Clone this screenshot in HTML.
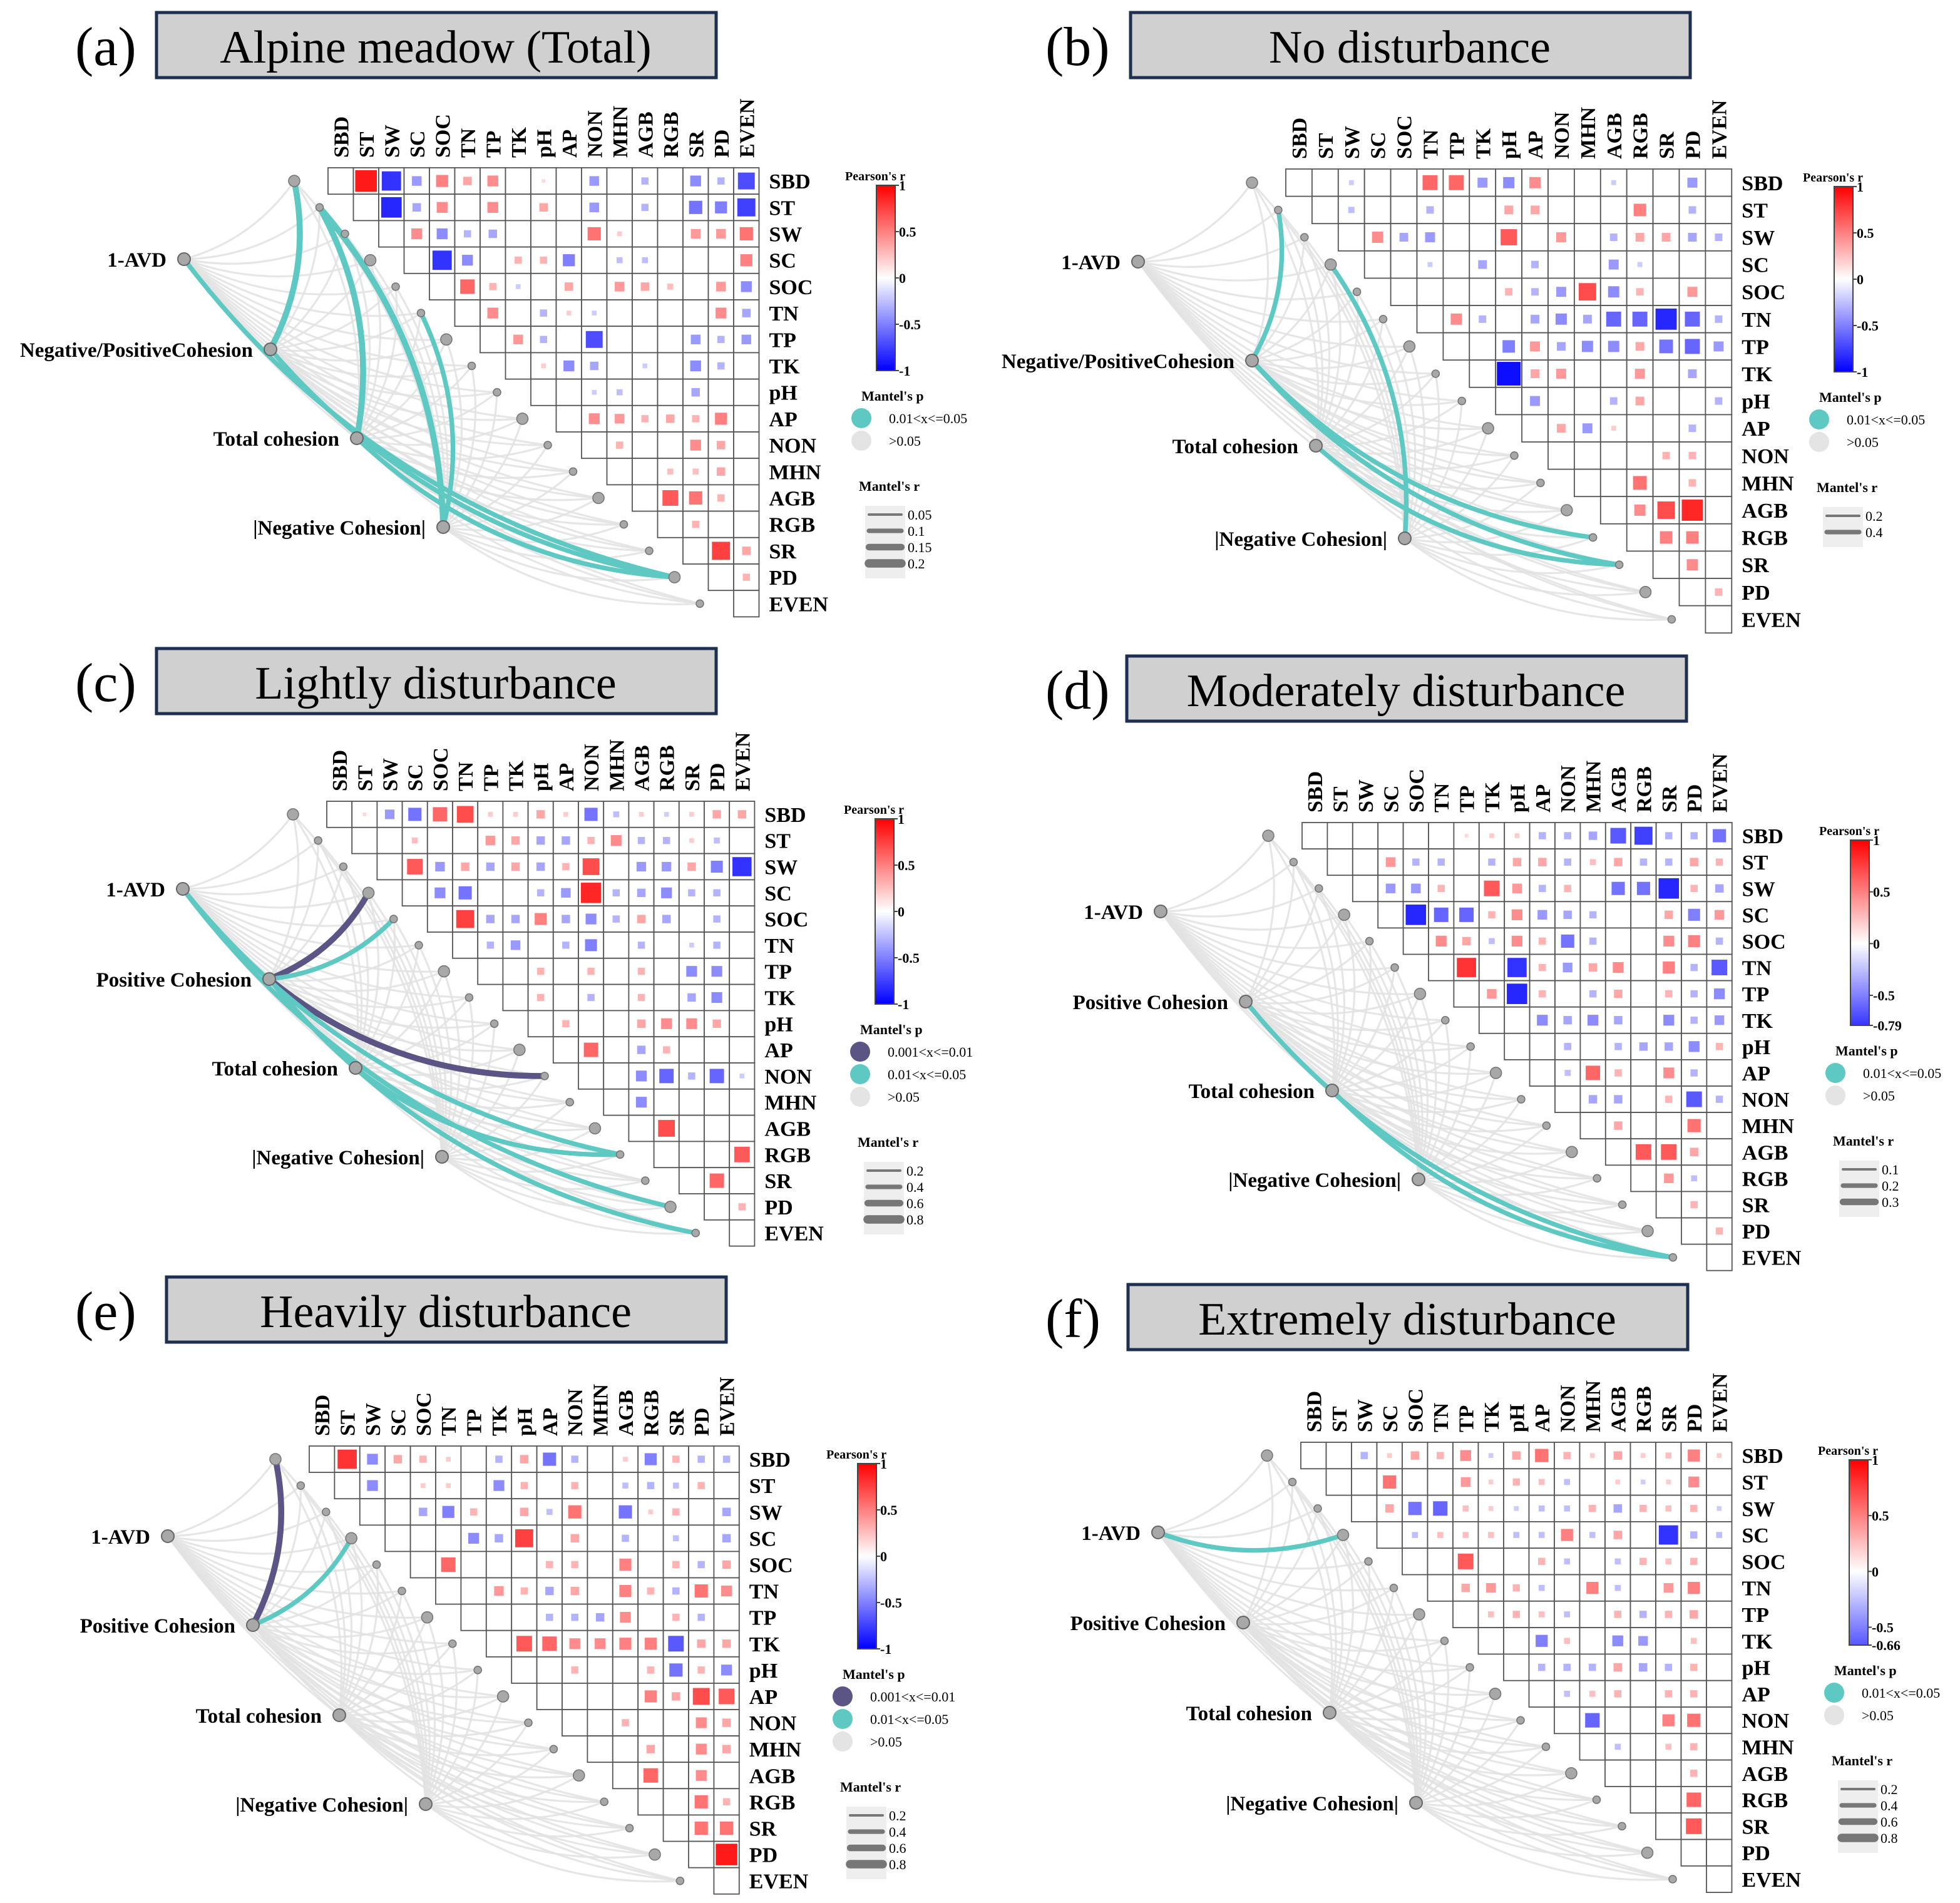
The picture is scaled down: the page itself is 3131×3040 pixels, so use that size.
<!DOCTYPE html>
<html><head><meta charset="utf-8">
<style>
html,body{margin:0;padding:0;background:#fff;}
svg{display:block;}
text{font-family:"Liberation Serif",serif;}
</style></head>
<body>
<svg id="fig" xmlns="http://www.w3.org/2000/svg" width="3131" height="3040" viewBox="0 0 1565.5 1520"></svg>
<script>
const vars = ["SBD","ST","SW","SC","SOC","TN","TP","TK","pH","AP","NON","MHN","AGB","RGB","SR","PD","EVEN"];
const titles = ["Alpine meadow (Total)","No disturbance","Lightly disturbance","Moderately disturbance","Heavily disturbance","Extremely disturbance"];
const letters = ["(a)","(b)","(c)","(d)","(e)","(f)"];
const respA = ["1-AVD","Negative/PositiveCohesion","Total cohesion","|Negative Cohesion|"];
const respC = ["1-AVD","Positive Cohesion","Total cohesion","|Negative Cohesion|"];
const cbMin = [-1,-1,-1,-0.79,-1,-0.66];
const mantelR_a = ["0.05","0.1","0.15","0.2"];
const mantelR_b = ["0.2","0.4"];
const mantelR_d = ["0.1","0.2","0.3"];
const mantelR_c = ["0.2","0.4","0.6","0.8"];
const cellsA = [[0,1,0.9],[0,2,-0.8],[0,3,-0.4],[0,4,0.5],[0,5,0.35],[0,6,0.45],[0,8,0.15],[0,10,-0.4],[0,12,-0.3],[0,14,-0.45],[0,15,-0.3],[0,16,-0.7],
[1,2,-0.85],[1,3,-0.35],[1,4,0.45],[1,6,0.45],[1,8,0.35],[1,10,-0.4],[1,12,-0.3],[1,14,-0.55],[1,15,-0.5],[1,16,-0.75],
[2,3,0.45],[2,4,-0.45],[2,5,-0.3],[2,6,-0.35],[2,10,0.55],[2,11,0.2],[2,14,0.4],[2,15,0.4],[2,16,0.55],
[3,4,-0.8],[3,5,-0.45],[3,7,0.3],[3,8,0.3],[3,9,-0.5],[3,11,-0.25],[3,12,-0.25],[3,16,0.5],
[4,5,0.6],[4,6,0.3],[4,7,-0.2],[4,9,0.35],[4,11,0.4],[4,12,0.35],[4,13,0.25],[4,15,0.4],[4,16,-0.45],
[5,6,0.45],[5,8,-0.3],[5,9,0.2],[5,10,-0.2],[5,15,0.45],[5,16,-0.35],
[6,7,0.4],[6,8,-0.3],[6,10,-0.7],[6,14,-0.4],[6,15,-0.3],[6,16,-0.4],
[7,8,0.2],[7,9,-0.45],[7,10,-0.35],[7,12,-0.2],[7,14,-0.45],[7,15,-0.3],
[8,10,-0.2],[8,11,-0.25],[8,14,-0.35],
[9,10,0.45],[9,11,0.4],[9,12,0.3],[9,13,0.35],[9,14,0.3],[9,15,0.5],
[10,11,0.3],[10,14,0.45],[10,15,0.35],[11,13,0.25],[11,14,0.25],[11,15,0.35],
[12,13,0.65],[12,14,0.55],[12,15,0.3],[13,14,0.3],[14,15,0.75],[14,16,0.35],[15,16,0.3]];
const cellsB = [[0,2,-0.2],[0,5,0.6],[0,6,0.6],[0,7,-0.4],[0,8,-0.45],[0,9,0.45],[0,12,-0.2],[0,15,-0.4],
[1,2,-0.25],[1,5,-0.3],[1,8,0.35],[1,9,0.35],[1,13,0.5],[1,15,-0.3],
[2,3,0.45],[2,4,-0.35],[2,5,-0.4],[2,8,0.65],[2,10,0.4],[2,12,-0.3],[2,13,0.35],[2,14,0.35],[2,15,-0.35],[2,16,-0.3],
[3,5,-0.2],[3,7,-0.35],[3,9,-0.3],[3,12,-0.4],[3,13,-0.2],
[4,8,0.3],[4,9,-0.3],[4,10,-0.4],[4,11,0.7],[4,12,-0.45],[4,13,0.3],[4,15,0.4],
[5,6,0.45],[5,7,-0.3],[5,9,-0.35],[5,10,-0.45],[5,11,-0.35],[5,12,-0.6],[5,13,-0.6],[5,14,-0.85],[5,15,-0.6],[5,16,-0.3],
[6,8,-0.5],[6,9,0.4],[6,10,-0.35],[6,11,-0.45],[6,12,-0.45],[6,13,0.35],[6,14,-0.55],[6,15,-0.6],[6,16,-0.4],
[7,8,-0.95],[7,9,0.35],[7,10,0.4],[7,13,0.4],[7,15,-0.35],
[8,9,-0.4],[8,12,-0.3],[8,13,0.35],[8,16,-0.3],
[9,10,0.35],[9,11,-0.4],[9,12,0.2],[9,15,-0.3],
[10,14,0.3],[10,15,0.3],[11,13,0.55],[11,15,0.3],
[12,13,0.45],[12,14,0.7],[12,15,0.85],[13,14,0.5],[13,15,0.5],[14,15,0.45],[15,16,0.3]];
const cellsC = [[0,1,0.15],[0,2,-0.4],[0,3,-0.55],[0,4,0.6],[0,5,0.7],[0,6,0.2],[0,7,0.2],[0,8,0.35],[0,9,0.2],[0,10,-0.55],[0,11,-0.25],[0,12,0.2],[0,13,-0.2],[0,14,0.2],[0,15,0.35],[0,16,0.35],
[1,3,0.25],[1,6,0.4],[1,7,0.35],[1,8,-0.35],[1,9,-0.35],[1,10,0.3],[1,11,0.45],[1,12,-0.3],[1,13,-0.3],[1,14,0.2],[1,15,-0.25],
[2,3,0.65],[2,4,-0.4],[2,5,0.35],[2,6,-0.35],[2,7,0.35],[2,8,-0.35],[2,9,0.3],[2,10,0.7],[2,12,-0.4],[2,13,-0.4],[2,14,0.35],[2,15,-0.5],[2,16,-0.8],
[3,4,-0.45],[3,5,-0.55],[3,8,-0.3],[3,9,-0.4],[3,10,0.85],[3,11,-0.3],[3,12,-0.35],[3,13,-0.45],[3,14,-0.3],[3,15,-0.3],
[4,5,0.75],[4,6,-0.35],[4,7,-0.35],[4,8,0.5],[4,9,-0.35],[4,10,-0.45],[4,11,-0.3],[4,12,0.35],[4,13,-0.35],[4,15,-0.3],
[5,6,-0.3],[5,7,-0.4],[5,9,-0.3],[5,10,-0.5],[5,12,-0.3],[5,14,-0.2],[5,15,-0.3],
[6,8,0.3],[6,10,0.3],[6,12,0.3],[6,14,-0.45],[6,15,-0.45],
[7,8,0.3],[7,10,-0.3],[7,12,0.3],[7,14,-0.35],[7,15,-0.45],
[8,9,0.3],[8,12,0.35],[8,13,0.45],[8,14,0.45],[8,15,0.35],
[9,10,0.6],[9,12,-0.35],[9,13,0.3],
[10,12,-0.45],[10,13,-0.6],[10,14,-0.3],[10,15,-0.6],[10,16,-0.2],
[11,12,-0.45],[12,13,0.7],[13,16,0.65],[14,15,0.6],[15,16,0.3]];
const cellsD = [[0,6,0.15],[0,7,0.2],[0,8,0.2],[0,9,-0.3],[0,10,-0.3],[0,11,-0.35],[0,12,-0.65],[0,13,-0.75],[0,14,-0.3],[0,15,-0.3],[0,16,-0.55],
[1,3,0.4],[1,4,-0.3],[1,5,-0.3],[1,7,-0.3],[1,8,0.35],[1,9,0.35],[1,10,-0.3],[1,11,0.25],[1,12,0.35],[1,13,-0.3],[1,14,-0.3],[1,15,0.35],[1,16,0.3],
[2,3,-0.4],[2,4,-0.4],[2,5,0.3],[2,7,0.65],[2,8,0.4],[2,9,-0.3],[2,10,0.3],[2,12,-0.55],[2,13,-0.55],[2,14,-0.85],[2,15,0.3],[2,16,-0.35],
[3,4,-0.85],[3,5,-0.6],[3,6,-0.6],[3,7,0.3],[3,8,0.45],[3,9,-0.4],[3,10,-0.35],[3,11,-0.3],[3,14,0.35],[3,15,-0.5],[3,16,0.4],
[4,5,0.45],[4,6,0.35],[4,7,-0.25],[4,8,0.45],[4,9,0.3],[4,10,-0.55],[4,11,-0.3],[4,14,0.45],[4,15,0.5],[4,16,-0.3],
[5,6,0.8],[5,8,-0.8],[5,9,0.3],[5,10,-0.4],[5,11,0.35],[5,12,0.45],[5,14,0.5],[5,15,-0.3],[5,16,-0.65],
[6,7,0.4],[6,8,-0.85],[6,9,0.3],[6,11,-0.3],[6,12,0.35],[6,14,0.3],[6,15,-0.3],[6,16,-0.45],
[7,9,-0.45],[7,10,-0.35],[7,11,-0.45],[7,12,-0.35],[7,14,-0.45],[7,15,-0.3],[7,16,-0.4],
[8,10,-0.3],[8,12,-0.3],[8,13,-0.35],[8,14,-0.35],[8,15,-0.45],[8,16,0.3],
[9,10,-0.25],[9,11,0.6],[9,12,0.3],[9,14,0.45],[9,15,-0.3],
[10,11,-0.35],[10,12,-0.35],[10,14,0.3],[10,15,-0.65],[10,16,-0.3],
[11,12,0.35],[11,15,0.55],[12,13,0.65],[12,14,0.65],[12,15,0.35],[13,14,0.4],[13,15,-0.25],[14,15,0.3],[15,16,0.3]];
const cellsE = [[0,1,0.8],[0,2,-0.45],[0,3,0.35],[0,4,0.3],[0,5,0.2],[0,7,-0.3],[0,8,0.35],[0,9,-0.55],[0,10,-0.3],[0,12,0.2],[0,13,-0.5],[0,14,0.3],[0,15,-0.3],[0,16,-0.3],
[1,2,-0.45],[1,4,0.2],[1,5,0.2],[1,7,-0.45],[1,8,0.3],[1,10,0.3],[1,12,-0.25],[1,13,-0.3],[1,14,-0.25],[1,15,0.3],
[2,4,-0.35],[2,5,-0.5],[2,6,0.3],[2,8,0.35],[2,9,-0.25],[2,10,0.55],[2,12,-0.55],[2,13,0.2],[2,14,0.3],[2,16,-0.35],
[3,6,-0.45],[3,7,-0.35],[3,8,0.75],[3,10,0.35],[3,12,-0.3],[3,14,-0.25],[3,16,-0.35],
[4,5,0.6],[4,9,0.3],[4,10,0.3],[4,12,0.5],[4,14,0.3],[4,15,-0.3],[4,16,0.35],
[5,7,0.4],[5,8,0.3],[5,9,-0.35],[5,10,0.35],[5,12,0.5],[5,13,0.3],[5,14,-0.3],[5,15,0.55],[5,16,0.45],
[6,9,-0.3],[6,10,-0.3],[6,11,-0.35],[6,12,0.45],[6,14,0.3],[6,15,-0.3],
[7,8,0.65],[7,9,0.6],[7,10,0.45],[7,11,0.45],[7,12,0.5],[7,13,0.5],[7,14,-0.65],[7,15,0.35],[7,16,0.35],
[8,10,0.3],[8,13,0.3],[8,14,-0.55],[8,15,0.3],[8,16,-0.45],
[9,13,0.5],[9,14,0.35],[9,15,0.7],[9,16,0.65],
[10,12,0.3],[10,15,0.45],[10,16,0.35],[11,13,0.35],[11,15,0.45],[11,16,0.35],
[12,13,0.6],[12,15,0.45],[13,15,0.55],[13,16,0.3],[14,15,0.55],[14,16,0.55],[15,16,0.9]];
const cellsF = [[0,2,-0.3],[0,3,0.2],[0,4,0.35],[0,5,0.3],[0,6,0.45],[0,7,-0.2],[0,8,0.35],[0,9,0.55],[0,10,0.3],[0,11,0.2],[0,12,0.35],[0,13,0.2],[0,14,0.25],[0,15,0.5],[0,16,0.2],
[1,3,0.55],[1,6,0.4],[1,7,0.2],[1,8,0.3],[1,9,0.25],[1,10,-0.25],[1,12,0.2],[1,13,-0.2],[1,14,0.2],[1,15,0.45],
[2,3,0.35],[2,4,-0.55],[2,5,-0.6],[2,6,0.25],[2,7,0.2],[2,8,-0.2],[2,9,-0.25],[2,10,-0.25],[2,11,0.3],[2,12,-0.35],[2,13,0.3],[2,14,0.25],[2,15,0.3],[2,16,-0.2],
[3,4,-0.25],[3,5,0.25],[3,6,0.25],[3,7,0.25],[3,8,-0.25],[3,9,-0.25],[3,10,0.5],[3,11,-0.25],[3,12,0.35],[3,14,-0.8],[3,15,-0.3],[3,16,-0.25],
[4,6,0.65],[4,9,0.3],[4,10,-0.25],[4,12,-0.25],[4,13,0.3],[4,14,0.25],[4,15,0.3],
[5,6,0.35],[5,7,0.4],[5,8,0.3],[5,9,-0.25],[5,11,0.5],[5,12,-0.25],[5,14,0.4],[5,15,0.5],
[6,7,0.25],[6,8,0.3],[6,9,0.25],[6,10,-0.25],[6,12,0.3],[6,13,-0.3],[6,14,0.3],[6,15,0.35],
[7,9,-0.5],[7,10,0.25],[7,12,-0.45],[7,13,-0.4],[7,15,0.25],
[8,9,-0.3],[8,10,-0.3],[8,11,-0.3],[8,12,0.35],[8,13,-0.35],[8,14,-0.3],[8,15,0.3],
[9,10,-0.25],[9,11,0.25],[9,12,0.3],[9,14,0.3],[9,15,0.3],
[10,11,-0.6],[10,14,0.5],[10,15,0.55],[11,12,-0.25],[11,14,0.25],[11,15,0.3],[12,15,0.3],[13,15,0.6],[14,15,0.65]];
// links: [response, variable, class(1=teal,2=purple), mantel r rank]
const linksA = [[0,15,1,2],[1,0,1,3],[1,15,1,2],[2,1,1,3],[3,1,1,3],[3,5,1,2],[2,15,1,2]];
const linksB = [[1,1,1,2],[3,3,1,2],[1,13,1,2],[2,14,1,2],[1,14,1,2]];
const linksC = [[1,3,2,3],[1,10,2,3],[1,4,1,2],[0,13,1,2],[0,15,1,2],[1,16,1,2],[2,13,1,2]];
const linksD = [[1,16,1,2],[2,16,1,2]];
const linksE = [[1,0,2,3],[1,3,1,2]];
const linksF = [[0,3,1,2]];

const panels = [
 {gx:262,gy:134,cw:20.25,ch:21.1,tb:[125,10],lx:60,cells:cellsA,links:linksA,resp:respA,rn:[[147,207],[216,279],[285,350],[354,421]],mr:mantelR_a,np:2,cb:0},
 {gx:1027,gy:135,cw:20.95,ch:21.8,tb:[903,10],lx:835,cells:cellsB,links:linksB,resp:respA,rn:[[909,209],[1000,288],[1051,356],[1122,430]],mr:mantelR_b,np:2,cb:1},
 {gx:261,gy:640,cw:20.1,ch:20.9,tb:[125,518],lx:60,cells:cellsC,links:linksC,resp:respC,rn:[[146,710],[215,782],[284,853],[353,924]],mr:mantelR_c,np:3,cb:2},
 {gx:1040,gy:657,cw:20.2,ch:21.05,tb:[900,524],lx:835,cells:cellsD,links:linksD,resp:respC,rn:[[927,728],[995,800],[1064,871],[1133,942]],mr:mantelR_d,np:2,cb:3},
 {gx:247,gy:1155,cw:20.2,ch:21.05,tb:[133,1020],lx:60,cells:cellsE,links:linksE,resp:respC,rn:[[134,1227],[202,1298],[271,1370],[340,1441]],mr:mantelR_c,np:3,cb:4},
 {gx:1039,gy:1152,cw:20.25,ch:21.15,tb:[901,1026],lx:835,cells:cellsF,links:linksF,resp:respC,rn:[[925,1224],[993,1296],[1062,1368],[1131,1440]],mr:mantelR_c,np:2,cb:5}
];
const NS="http://www.w3.org/2000/svg";
const svg=document.getElementById('fig');
function mk(tag,attrs,parent,text){const e=document.createElementNS(NS,tag);for(const k in attrs)e.setAttribute(k,attrs[k]);if(text!==undefined)e.textContent=text;(parent||svg).appendChild(e);return e;}
function col(v){const t=Math.min(1,Math.abs(v));const a=Math.round(255*(1-t));return v>=0?`rgb(255,${a},${a})`:`rgb(${a},${a},255)`;}
const TEAL="#5ec8c2",PURP="#5b5585",GREY="#e2e2e2";
let defs=mk('defs',{});
panels.forEach((p,pi)=>{
 const g=mk('g',{});
 
 
 const xC=j=>p.gx+(j+0.5)*p.cw, yC=i=>p.gy+(i+0.5)*p.ch;
 // title
 const lt=mk('text',{x:p.lx,y:p.tb[1]+42,'font-size':44},g,letters[pi]);
 
 const tb=mk('rect',{x:p.tb[0],y:p.tb[1],width:447,height:52,fill:'#d0d0d0',stroke:'#1e2f4f','stroke-width':2.5},g);
 
 const tt=mk('text',{x:p.tb[0]+223,y:p.tb[1]+40,'font-size':37,'text-anchor':'middle'},g,titles[pi]);
 
 // spokes
 const sp=vars.map((v,i)=>[p.gx+i*p.cw-27,yC(i)]);
 const curve=(a,b,k)=>{const dx=b[0]-a[0],dy=b[1]-a[1];const cx=(a[0]+b[0])/2-dy*k,cy=(a[1]+b[1])/2+dx*k;return `M${a[0]},${a[1]} Q${cx},${cy} ${b[0]},${b[1]}`;};
 const lg=mk('g',{fill:'none'},g);
 
 p.rn.forEach((r,ri)=>vars.forEach((v,vi)=>{
  const l=mk('path',{d:curve(r,sp[vi],0.18),stroke:GREY,'stroke-width':1.6,'stroke-opacity':0.85},lg);
  
 }));
 p.links.forEach(L=>{
  const l=mk('path',{d:curve(p.rn[L[0]],sp[L[1]],0.18),stroke:L[2]===2?PURP:TEAL,'stroke-width':1.5+L[3]*1.1,'stroke-linecap':'round'},lg);
  
 });
 sp.forEach((s,i)=>{const c=mk('circle',{cx:s[0],cy:s[1],r:i%3===0?4.5:3,fill:'#a8a8a8',stroke:'#777','stroke-width':0.8},g);
  });
 p.rn.forEach((r,ri)=>{
  const c=mk('circle',{cx:r[0],cy:r[1],r:5,fill:'#a8a8a8',stroke:'#666','stroke-width':1},g);
  
  const t=mk('text',{x:r[0]-14,y:r[1]+6,'font-size':16.5,'font-weight':'bold','text-anchor':'end'},g,p.resp[ri]);
  
 });
 // grid
 for(let i=0;i<17;i++)for(let j=i;j<17;j++){
  const c=mk('rect',{x:p.gx+j*p.cw,y:p.gy+i*p.ch,width:p.cw,height:p.ch,fill:'#fff',stroke:'#555','stroke-width':0.9},g);
  
 }
 p.cells.forEach(c=>{
  const s=Math.min(p.cw,p.ch)*0.95*Math.abs(c[2]);
  const r=mk('rect',{x:xC(c[1])-s/2,y:yC(c[0])-s/2,width:s,height:s,fill:col(c[2])},g);
  
 });
 vars.forEach((v,i)=>{
  const t=mk('text',{x:p.gx+17*p.cw+8,y:yC(i)+6,'font-size':17,'font-weight':'bold'},g,v);
  
  const x=xC(i)+6,y=p.gy-8;
  const t2=mk('text',{x:x,y:y,'font-size':17,'font-weight':'bold',transform:`rotate(-90 ${x} ${y})`},g,v);
  
 });
 // colorbar
 const cbx=p.gx+438, cby=p.gy+14, cbh=148;
 const gid='grad'+pi;
 const lgd=mk('linearGradient',{id:gid,x1:0,y1:0,x2:0,y2:1},defs);
 const mn=cbMin[p.cb];
 [[0,1],[0.5,0],[1,mn]].forEach(s=>{const off=(1-s[1])/(1-mn);mk('stop',{offset:off,'stop-color':col(s[1])},lgd);});
 const cbt=mk('text',{x:cbx-25,y:cby-4,'font-size':10,'font-weight':'bold'},g,"Pearson's r");
 
 const cb=mk('rect',{x:cbx,y:cby,width:15,height:cbh,fill:`url(#${gid})`,stroke:'#444','stroke-width':1},g);
 
 const ticks=[1,0.5,0,-0.5].filter(v=>v>mn+0.05).concat([mn]);
 ticks.forEach(v=>{const y=cby+cbh*(1-v)/(1-mn);
  mk('line',{x1:cbx+15,x2:cbx+18,y1:y,y2:y,stroke:'#444'},g);
  const t=mk('text',{x:cbx+18,y:y+4,'font-size':11,'font-weight':'bold'},g,String(v));
  });
 // Mantel p legend
 const my=cby+cbh+24;
 const mpt=mk('text',{x:cbx-12,y:my,'font-size':11,'font-weight':'bold'},g,"Mantel's p");
 
 const ents=p.np===3?[[PURP,'0.001<x<=0.01'],[TEAL,'0.01<x<=0.05'],['#e4e4e4','>0.05']]:[[TEAL,'0.01<x<=0.05'],['#e4e4e4','>0.05']];
 ents.forEach((e,k)=>{const y=my+14+k*18;
  const c=mk('circle',{cx:cbx-12,cy:y,r:8,fill:e[0]},g);
  const t=mk('text',{x:cbx+10,y:y+4,'font-size':11},g,e[1]);});
 const ry=my+14+ents.length*18+22;
 const mrt=mk('text',{x:cbx-14,y:ry,'font-size':11,'font-weight':'bold'},g,"Mantel's r");
 
 mk('rect',{x:cbx-9,y:ry+12,width:32,height:p.mr.length*13+6,fill:'#eeeeee'},g);
 p.mr.forEach((v,k)=>{const y=ry+19+k*13;
  const l=mk('line',{x1:cbx-6,x2:cbx+20,y1:y,y2:y,stroke:'#777','stroke-width':2+k*1.6,'stroke-linecap':'round'},g);
  
  const t=mk('text',{x:cbx+25,y:y+4,'font-size':11},g,v);});
});
</script>
</body></html>
